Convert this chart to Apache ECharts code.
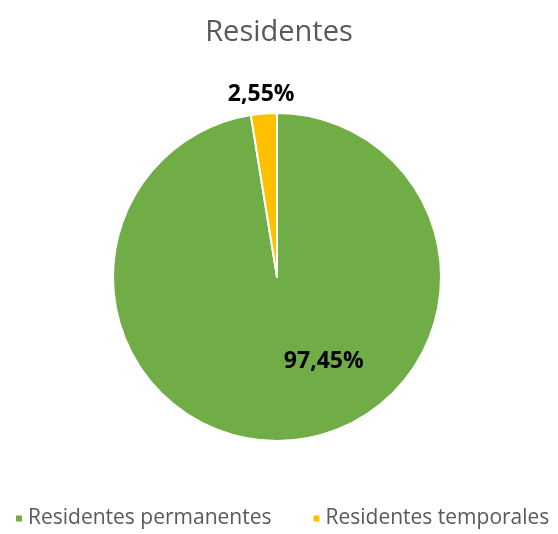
<!DOCTYPE html>
<html><head><meta charset="utf-8">
<script src="https://cdn.jsdelivr.net/npm/echarts@6/dist/echarts.min.js"></script>
<style>html,body{margin:0;padding:0;background:#fff}#c{width:558px;height:534px}</style>
</head><body><div id="c"></div>
<script>
const categories = ["Residentes permanentes", "Residentes temporales"];
const values = [97.45, 2.55];
const labels = ["97,45%", "2,55%"];
const colors = ["#70AD47", "#FFC000"];

const chart = echarts.init(document.getElementById('c'), null, {renderer: 'canvas'});
const font = "'Open Sans', 'Liberation Sans', sans-serif";
chart.setOption({
  animation: false,
  title: {
    text: "Residentes", left: 'center', top: 13,
    textStyle: {fontFamily: font, fontSize: 29, fontWeight: 'normal', color: '#595959'}
  },
  legend: {
    bottom: 0, left: 9, itemWidth: 8, itemHeight: 8, itemGap: 40, icon: 'rect',
    textStyle: {fontFamily: font, fontSize: 21, color: '#595959'},
    data: categories
  },
  series: [{
    type: 'pie', center: [277, 277], radius: 164, startAngle: 90, clockwise: true,
    itemStyle: {borderColor: '#fff', borderWidth: 2},
    labelLine: {show: false},
    data: categories.map((c, i) => ({
      name: c, value: values[i],
      itemStyle: {color: colors[i]},
      label: {show: true, position: 'inner', formatter: labels[i],
              offset: i === 0 ? [40, 0] : [-9, -98],
              fontFamily: font, fontSize: 23, fontWeight: 'bold', color: '#000'}
    }))
  }]
});
</script></body></html>
